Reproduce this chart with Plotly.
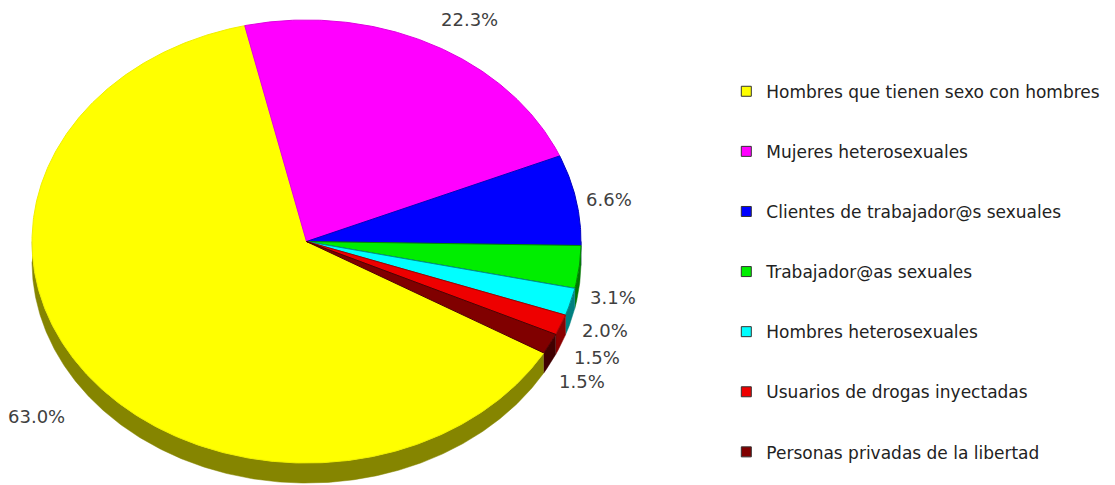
import numpy as np
import plotly.graph_objects as go

# ---- data ----
categories = [
    "Hombres que tienen sexo con hombres",
    "Mujeres heterosexuales",
    "Clientes de trabajador@s sexuales",
    "Trabajador@as sexuales",
    "Hombres heterosexuales",
    "Usuarios de drogas inyectadas",
    "Personas privadas de la libertad",
]
values = [63.0, 22.3, 6.6, 3.1, 2.0, 1.5, 1.5]

# ---- styling ----
top_colors = ["#ffff00", "#ff00ff", "#0000ff", "#00ee00", "#00ffff", "#ee0000", "#800000"]
side_colors = ["#858500", "#800080", "#000080", "#007700", "#008080", "#8a0000", "#400000"]
edge_colors = ["#f0f000", "#e000e0", "#0000c0", "#008800", "#009090", "#a00000", "#500000"]

# geometry of the tilted pie (unit radius horizontally)
tilt = 0.807          # vertical squash of the top face
depth = 0.073         # thickness of the disc
start_angle = -30.2   # where the first slice starts, slices run clockwise
px_per_unit = 274.5
cx_px, cy_px = 306.5, 241.5
W, H = 1115, 485

# per-label pixel nudges for the percentage labels
label_nudge = [(-20, 6), (21, 1), (-2, 5), (-2, 7), (0, 1), (3, 2), (0, 4)]

total = float(sum(values))
fig = go.Figure()


def arc(a0, a1, n_per_deg=2):
    n = max(int(abs(a1 - a0) * n_per_deg), 2)
    t = np.radians(np.linspace(a0, a1, n))
    return np.cos(t), tilt * np.sin(t)


slices = []
cum = 0.0
for v in values:
    a0 = start_angle - 360.0 * cum / total
    a1 = a0 - 360.0 * v / total
    slices.append((a0, a1))
    cum += v

# side walls (only the front half of the disc is visible)
for (a0, a1), sc in zip(slices, side_colors):
    lo, hi = a1, a0
    for k in range(-2, 3):
        s_lo, s_hi = max(lo, -180 + 360 * k), min(hi, 0 + 360 * k)
        if s_hi <= s_lo:
            continue
        xs, ys = arc(s_lo, s_hi)
        px = np.concatenate([xs, xs[::-1]])
        py = np.concatenate([ys, ys[::-1] - depth])
        fig.add_trace(go.Scatter(
            x=px, y=py, mode="lines", fill="toself", fillcolor=sc,
            line=dict(color=sc, width=0.5), hoverinfo="skip", showlegend=False))

# top faces
for (a0, a1), name, v, tc, ec in zip(slices, categories, values, top_colors, edge_colors):
    xs, ys = arc(a0, a1)
    px = np.concatenate([[0.0], xs, [0.0]])
    py = np.concatenate([[0.0], ys, [0.0]])
    fig.add_trace(go.Scatter(
        x=px, y=py, mode="lines", fill="toself", fillcolor=tc,
        line=dict(color=ec, width=1), name=name, showlegend=False,
        hovertemplate=f"{name}: {v:.1f}%<extra></extra>"))

# legend entries
for i, (name, tc) in enumerate(zip(categories, top_colors)):
    fig.add_trace(go.Scatter(
        x=[None], y=[None], mode="markers", name=name, legendgroup=f"g{i}",
        marker=dict(symbol="square", size=10, color=tc, line=dict(color="#333333", width=1))))

# percentage labels
for (a0, a1), v, (dx, dy) in zip(slices, values, label_nudge):
    m = np.radians((a0 + a1) / 2)
    lx = 1.13 * np.cos(m)
    ly = 1.13 * tilt * np.sin(m) - (depth if np.sin(m) < 0 else 0)
    fig.add_annotation(
        x=lx, y=ly, text=f"{v:.1f}%", showarrow=False,
        xshift=dx, yshift=-dy,
        font=dict(family="DejaVu Sans", size=18, color="#404040"))

x_range = [-cx_px / px_per_unit, (W - cx_px) / px_per_unit]
y_range = [-(H - cy_px) / px_per_unit, cy_px / px_per_unit]

fig.update_layout(
    width=W, height=H,
    margin=dict(l=0, r=0, t=0, b=0),
    paper_bgcolor="white", plot_bgcolor="white",
    xaxis=dict(range=x_range, visible=False, fixedrange=True),
    yaxis=dict(range=y_range, visible=False, fixedrange=True),
    showlegend=True,
    legend=dict(
        x=0.6514, y=0.848, xanchor="left", yanchor="top",
        traceorder="grouped", tracegroupgap=35,
        font=dict(family="DejaVu Sans", size=17, color="#222222"),
        bgcolor="rgba(0,0,0,0)"),
)

fig.write_html("out.html")
